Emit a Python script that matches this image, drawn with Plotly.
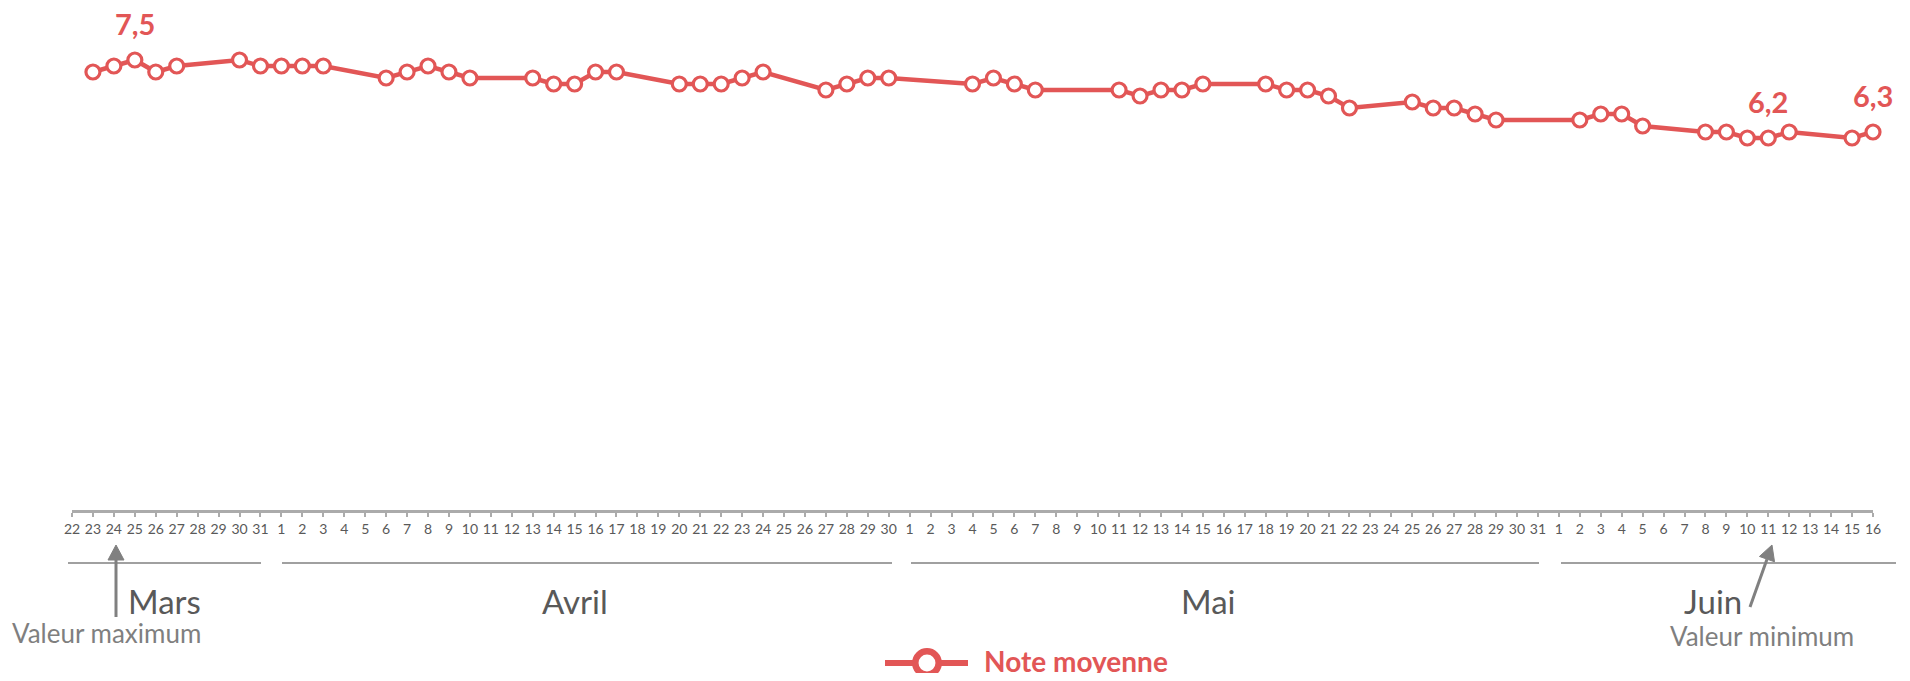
import numpy as np
import pandas as pd
import plotly.graph_objects as go

# jours releves (pas de releve les week-ends / jours feries)
dates = ["2020-03-23", "2020-03-24", "2020-03-25", "2020-03-26", "2020-03-27",
         "2020-03-30", "2020-03-31", "2020-04-01", "2020-04-02", "2020-04-03",
         "2020-04-06", "2020-04-07", "2020-04-08", "2020-04-09", "2020-04-10",
         "2020-04-13", "2020-04-14", "2020-04-15", "2020-04-16", "2020-04-17",
         "2020-04-20", "2020-04-21", "2020-04-22", "2020-04-23", "2020-04-24",
         "2020-04-27", "2020-04-28", "2020-04-29", "2020-04-30",
         "2020-05-04", "2020-05-05", "2020-05-06", "2020-05-07",
         "2020-05-11", "2020-05-12", "2020-05-13", "2020-05-14", "2020-05-15",
         "2020-05-18", "2020-05-19", "2020-05-20", "2020-05-21", "2020-05-22",
         "2020-05-25", "2020-05-26", "2020-05-27", "2020-05-28", "2020-05-29",
         "2020-06-02", "2020-06-03", "2020-06-04", "2020-06-05",
         "2020-06-08", "2020-06-09", "2020-06-10", "2020-06-11", "2020-06-12",
         "2020-06-15", "2020-06-16"]
notes = [7.3, 7.4, 7.5, 7.3, 7.4,
         7.5, 7.4, 7.4, 7.4, 7.4,
         7.2, 7.3, 7.4, 7.3, 7.2,
         7.2, 7.1, 7.1, 7.3, 7.3,
         7.1, 7.1, 7.1, 7.2, 7.3,
         7.0, 7.1, 7.2, 7.2,
         7.1, 7.2, 7.1, 7.0,
         7.0, 6.9, 7.0, 7.0, 7.1,
         7.1, 7.0, 7.0, 6.9, 6.7,
         6.8, 6.7, 6.7, 6.6, 6.5,
         6.5, 6.6, 6.6, 6.4,
         6.3, 6.3, 6.2, 6.2, 6.3,
         6.2, 6.3]
label_dates = ["2020-03-25", "2020-06-11", "2020-06-16"]
months = ["Mars", "Avril", "Mai", "Juin"]
series_name = "Note moyenne"

axis_days = pd.date_range("2020-03-22", "2020-06-16").strftime("%Y-%m-%d").tolist()
axis_labels = [str(int(d[-2:])) for d in axis_days]
lookup = dict(zip(dates, notes))
y_full = [lookup.get(d) for d in axis_days]

RED = "#E25656"
FONT = "Lato"

# the page body has an 8px margin; plot area wanted at page x 72..1873, y 30..510
OFF = 8
W, H = 1910 - 2 * OFF, 681 - 2 * OFF
L, T = 72 - OFF, 30 - OFF
R = W - (1873 - OFF)
B = H - (510 - OFF)
PW, PH = 1873 - 72, 510 - 30


def px(p):
    return (p - 72) / PW


def py(p):
    return (510 - p) / PH


fig = go.Figure()
fig.add_trace(go.Scatter(
    x=axis_days, y=y_full, mode="lines+markers", name=series_name,
    connectgaps=True, cliponaxis=False, showlegend=False,
    line=dict(color=RED, width=4.5),
    marker=dict(symbol="circle", size=14, color="white",
                line=dict(color=RED, width=3.2)),
))

annotations = []
for d in label_dates:
    annotations.append(dict(
        x=d, y=lookup[d], xref="x", yref="y", showarrow=False, yshift=37,
        text="<b>" + ("%.1f" % lookup[d]).replace(".", ",") + "</b>",
        font=dict(family=FONT, size=29, color=RED),
    ))

# noms de mois sous l'axe
month_x = [164, 575, 1208, 1713]
for m, xc in zip(months, month_x):
    annotations.append(dict(
        x=px(xc), y=py(601), xref="paper", yref="paper", showarrow=False,
        text=m, font=dict(family=FONT, size=33, color="#595959"),
        xanchor="center", yanchor="middle",
    ))

annotations.append(dict(x=px(106), y=py(633), xref="paper", yref="paper",
                        showarrow=False, text="Valeur maximum",
                        xanchor="center", yanchor="middle",
                        font=dict(family=FONT, size=26, color="#7F7F7F")))
annotations.append(dict(x=px(1762), y=py(636), xref="paper", yref="paper",
                        showarrow=False, text="Valeur minimum",
                        xanchor="center", yanchor="middle",
                        font=dict(family=FONT, size=26, color="#7F7F7F")))
annotations.append(dict(x=px(982), y=py(661), xref="paper", yref="paper",
                        showarrow=False, text="<b>" + series_name + "</b>",
                        xanchor="left", yanchor="middle",
                        font=dict(family=FONT, size=28, color=RED)))

shapes = []
# traits de regroupement par mois
for x0, x1 in [(68, 261), (282, 892), (911, 1539), (1561, 1896)]:
    shapes.append(dict(type="line", xref="paper", yref="paper",
                       x0=px(x0), x1=px(x1), y0=py(563), y1=py(563),
                       line=dict(color="#A0A0A0", width=2)))

# fleches max / min
GREY = "#808080"
for tail, tip in [((116, 617), (116, 545)), ((1750, 607), (1772, 545))]:
    tail, tip = np.array(tail, float), np.array(tip, float)
    u = (tip - tail) / np.linalg.norm(tip - tail)
    n = np.array([-u[1], u[0]])
    base = tip - 15 * u
    shapes.append(dict(type="line", xref="paper", yref="paper",
                       x0=px(tail[0]), y0=py(tail[1]),
                       x1=px(base[0]), y1=py(base[1]),
                       line=dict(color=GREY, width=3)))
    c1, c2 = base + 8 * n, base - 8 * n
    path = "M %f,%f L %f,%f L %f,%f Z" % (px(tip[0]), py(tip[1]),
                                          px(c1[0]), py(c1[1]),
                                          px(c2[0]), py(c2[1]))
    shapes.append(dict(type="path", xref="paper", yref="paper", path=path,
                       fillcolor=GREY, line=dict(color=GREY, width=1)))

# legende dessinee a la main
shapes.append(dict(type="line", xref="paper", yref="paper",
                   x0=px(885), x1=px(968), y0=py(663), y1=py(663),
                   line=dict(color=RED, width=6)))
r = 11.7
shapes.append(dict(type="circle", xref="paper", yref="paper",
                   x0=px(927 - r), x1=px(927 + r), y0=py(663 + r), y1=py(663 - r),
                   fillcolor="white", line=dict(color=RED, width=6.5)))

fig.update_layout(
    width=W, height=H,
    margin=dict(l=L, r=R, t=T, b=B),
    paper_bgcolor="white", plot_bgcolor="white",
    annotations=annotations, shapes=shapes,
    xaxis=dict(type="category", range=[0, len(axis_days) - 1],
               tickmode="array", tickvals=axis_days, ticktext=axis_labels,
               tickangle=0, showgrid=False, zeroline=False,
               showline=True, linecolor="#ABABAB", linewidth=3,
               ticks="outside", ticklen=4, tickwidth=2, tickcolor="#ABABAB",
               tickfont=dict(family=FONT, size=14, color="#595959")),
    yaxis=dict(range=[0, 8], visible=False, showgrid=False, zeroline=False),
)

fig.write_html("out.html")
